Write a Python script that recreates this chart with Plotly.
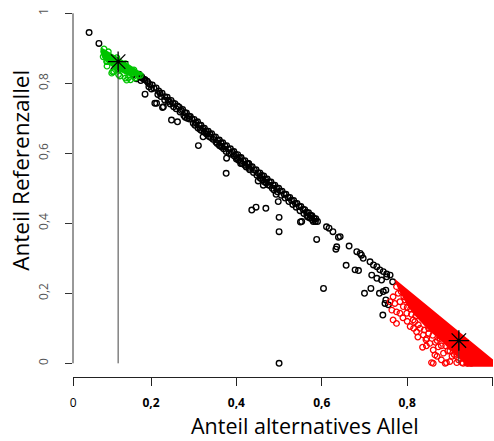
import plotly.graph_objects as go

# ---------------- data ----------------
black_x = [0.055, 0.078, 0.158, 0.166, 0.178, 0.186, 0.193, 0.186, 0.213, 0.229,
           0.248, 0.262, 0.172, 0.179, 0.183, 0.191, 0.197, 0.203, 0.207, 0.212,
           0.218, 0.221, 0.226, 0.232, 0.238, 0.241, 0.247, 0.251, 0.256, 0.262,
           0.266, 0.271, 0.274, 0.279, 0.283, 0.288, 0.292, 0.296, 0.301, 0.305,
           0.309, 0.313, 0.317, 0.321, 0.325, 0.329, 0.334, 0.338, 0.342, 0.347,
           0.351, 0.356, 0.360, 0.364, 0.368, 0.373, 0.377, 0.381, 0.386, 0.390,
           0.394, 0.398, 0.403, 0.407, 0.411, 0.416, 0.420, 0.425, 0.429, 0.433,
           0.437, 0.442, 0.446, 0.451, 0.455, 0.459, 0.464, 0.468, 0.472, 0.477,
           0.481, 0.486, 0.490, 0.494, 0.499, 0.503, 0.507, 0.512, 0.516, 0.521,
           0.525, 0.529, 0.534, 0.538, 0.542, 0.547, 0.551, 0.556, 0.560, 0.564,
           0.569, 0.573, 0.577, 0.582, 0.586, 0.232, 0.240, 0.280, 0.290, 0.310,
           0.318, 0.325, 0.345, 0.352, 0.360, 0.370, 0.376, 0.395, 0.402, 0.410,
           0.420, 0.455, 0.462, 0.470, 0.478, 0.484, 0.565, 0.572, 0.578, 0.585,
           0.590, 0.209, 0.227, 0.311, 0.322, 0.377, 0.376, 0.410, 0.428, 0.430,
           0.451, 0.463, 0.436, 0.446, 0.469, 0.500, 0.500, 0.498, 0.493, 0.550,
           0.588, 0.611, 0.617, 0.626, 0.639, 0.643, 0.635, 0.633, 0.664, 0.657,
           0.682, 0.690, 0.693, 0.697, 0.678, 0.686, 0.713, 0.721, 0.729, 0.736,
           0.744, 0.752, 0.760, 0.717, 0.729, 0.740, 0.752, 0.766, 0.604, 0.700,
           0.715, 0.735, 0.750, 0.750, 0.756, 0.744, 0.748, 0.743, 0.500, 0.575,
           0.553]
black_y = [0.945, 0.914, 0.826, 0.813, 0.819, 0.810, 0.802, 0.769, 0.743, 0.733,
           0.695, 0.690, 0.826, 0.815, 0.812, 0.806, 0.797, 0.795, 0.786, 0.787,
           0.778, 0.772, 0.772, 0.762, 0.760, 0.752, 0.751, 0.744, 0.742, 0.735,
           0.732, 0.722, 0.725, 0.716, 0.715, 0.707, 0.705, 0.698, 0.697, 0.688,
           0.690, 0.681, 0.680, 0.672, 0.672, 0.664, 0.663, 0.655, 0.656, 0.646,
           0.647, 0.637, 0.638, 0.629, 0.630, 0.621, 0.622, 0.612, 0.613, 0.604,
           0.605, 0.597, 0.596, 0.588, 0.588, 0.578, 0.579, 0.570, 0.570, 0.562,
           0.562, 0.552, 0.553, 0.544, 0.544, 0.537, 0.535, 0.527, 0.527, 0.518,
           0.518, 0.509, 0.509, 0.501, 0.500, 0.492, 0.492, 0.483, 0.483, 0.474,
           0.474, 0.466, 0.465, 0.457, 0.457, 0.448, 0.448, 0.440, 0.439, 0.432,
           0.430, 0.423, 0.422, 0.414, 0.413, 0.752, 0.748, 0.703, 0.698, 0.672,
           0.665, 0.660, 0.640, 0.632, 0.622, 0.613, 0.605, 0.592, 0.586, 0.577,
           0.566, 0.530, 0.525, 0.515, 0.508, 0.500, 0.422, 0.415, 0.410, 0.405,
           0.405, 0.743, 0.731, 0.622, 0.647, 0.586, 0.543, 0.571, 0.571, 0.557,
           0.521, 0.509, 0.438, 0.446, 0.443, 0.417, 0.376, 0.462, 0.483, 0.404,
           0.354, 0.390, 0.386, 0.376, 0.360, 0.362, 0.333, 0.326, 0.335, 0.280,
           0.319, 0.314, 0.309, 0.300, 0.267, 0.265, 0.290, 0.281, 0.276, 0.267,
           0.262, 0.255, 0.252, 0.252, 0.243, 0.238, 0.247, 0.233, 0.214, 0.200,
           0.214, 0.200, 0.209, 0.181, 0.167, 0.205, 0.171, 0.138, 0.000, 0.422,
           0.405]

# second, slightly lower row of the dense black band
black_band_x = [0.176, 0.195, 0.201, 0.216, 0.223, 0.245, 0.253, 0.259, 0.268, 0.277,
                0.285, 0.299, 0.303, 0.315, 0.330, 0.336, 0.340, 0.355, 0.363, 0.366,
                0.383, 0.388, 0.400, 0.405, 0.414, 0.423, 0.431, 0.440, 0.448, 0.457,
                0.466, 0.474, 0.488, 0.496, 0.505, 0.514, 0.523, 0.532, 0.540, 0.549,
                0.558, 0.567, 0.580]
black_band_y = [0.808, 0.790, 0.784, 0.768, 0.762, 0.741, 0.733, 0.727, 0.718, 0.708,
                0.700, 0.686, 0.680, 0.668, 0.655, 0.648, 0.645, 0.628, 0.620, 0.618,
                0.600, 0.597, 0.584, 0.580, 0.570, 0.561, 0.553, 0.545, 0.537, 0.528,
                0.518, 0.510, 0.495, 0.490, 0.480, 0.472, 0.462, 0.454, 0.446, 0.436,
                0.428, 0.418, 0.405]

green_x = [0.097, 0.113, 0.124, 0.140, 0.152, 0.163, 0.110, 0.127, 0.147, 0.123,
           0.098, 0.088, 0.135, 0.096, 0.108, 0.143, 0.155, 0.159, 0.170, 0.175,
           0.090, 0.100, 0.120, 0.140, 0.160]
green_y = [0.849, 0.834, 0.825, 0.815, 0.810, 0.815, 0.833, 0.821, 0.816, 0.838,
           0.862, 0.876, 0.852, 0.862, 0.829, 0.809, 0.833, 0.819, 0.822, 0.823,
           0.898, 0.890, 0.873, 0.856, 0.838]
# outline of the solid, fully overplotted part of the green cloud
green_area_x = [0.083, 0.131, 0.180, 0.178, 0.165, 0.152, 0.140, 0.124, 0.113, 0.097, 0.086, 0.081]
green_area_y = [0.903, 0.869, 0.829, 0.822, 0.823, 0.820, 0.825, 0.835, 0.843, 0.858, 0.872, 0.890]

red_x = [0.767, 0.779, 0.771, 0.783, 0.764, 0.775, 0.791, 0.799, 0.783, 0.767,
         0.775, 0.807, 0.818, 0.822, 0.830, 0.838, 0.846, 0.853, 0.836, 0.861,
         0.873, 0.885, 0.861, 0.889, 0.900, 0.931, 0.916, 0.814, 0.795, 0.807,
         0.775, 0.760, 0.865, 0.857, 0.892, 0.916, 0.928, 0.844, 0.877, 0.786,
         0.792, 0.800, 0.810, 0.826, 0.840, 0.850, 0.866, 0.880, 0.895, 0.905,
         0.920, 0.940, 0.950, 0.800, 0.790, 0.815, 0.825, 0.845, 0.870, 0.880,
         0.820, 0.808, 0.850, 0.860, 0.870, 0.890, 0.900, 0.910, 0.935]
red_y = [0.190, 0.200, 0.171, 0.176, 0.152, 0.147, 0.162, 0.143, 0.143, 0.124,
         0.114, 0.105, 0.119, 0.090, 0.100, 0.081, 0.071, 0.057, 0.046, 0.038,
         0.047, 0.029, 0.000, 0.000, 0.005, 0.000, 0.019, 0.124, 0.181, 0.171,
         0.219, 0.176, 0.024, 0.002, 0.002, 0.002, 0.002, 0.067, 0.071, 0.205,
         0.190, 0.160, 0.140, 0.110, 0.095, 0.085, 0.060, 0.050, 0.035, 0.020,
         0.010, 0.000, 0.000, 0.120, 0.130, 0.100, 0.075, 0.050, 0.020, 0.010,
         0.135, 0.155, 0.100, 0.080, 0.065, 0.050, 0.035, 0.025, 0.012]
# outline of the solid, fully overplotted part of the red cloud
red_area_x = [0.772, 1.003, 1.003, 0.940, 0.930, 0.915, 0.900, 0.885, 0.868, 0.850,
              0.832, 0.815, 0.800, 0.788, 0.778, 0.772]
red_area_y = [0.240, 0.009, -0.010, -0.010, 0.005, 0.022, 0.038, 0.058, 0.075, 0.095,
              0.118, 0.140, 0.165, 0.190, 0.215, 0.232]

star_x = [0.123, 0.921]
star_y = [0.862, 0.065]

x_tick_vals = [0.0175, 0.2, 0.4, 0.6, 0.8, 1.0]
x_tick_text = ["0", "<b>0,2</b>", "<b>0,4</b>", "<b>0,6</b>", "<b>0,8</b>", "<b>1</b>"]
y_tick_vals = [0, 0.2, 0.4, 0.6, 0.8, 1.0]
y_tick_text = ["0", "0,2", "0,4", "0,6", "0,8", "1"]

x_title = "Anteil alternatives Allel"
y_title = "Anteil Referenzallel"

FONT = "Open Sans"
GREEN = "#00C400"
RED = "#FF0000"

fig = go.Figure()

fig.add_trace(go.Scatter(x=black_x + black_band_x, y=black_y + black_band_y,
                         mode="markers", cliponaxis=False,
                         marker=dict(symbol="circle-open", size=5.6, color="black",
                                     line=dict(width=1.35, color="black"))))

fig.add_trace(go.Scatter(x=green_area_x, y=green_area_y, mode="lines", fill="toself",
                         fillcolor=GREEN, line=dict(width=0, color=GREEN)))
fig.add_trace(go.Scatter(x=green_x, y=green_y, mode="markers", cliponaxis=False,
                         marker=dict(symbol="circle-open", size=5.6, color=GREEN,
                                     line=dict(width=1.3, color=GREEN))))

fig.add_trace(go.Scatter(x=red_area_x, y=red_area_y, mode="lines", fill="toself",
                         fillcolor=RED, line=dict(width=0, color=RED)))
fig.add_trace(go.Scatter(x=red_x, y=red_y, mode="markers", cliponaxis=False,
                         marker=dict(symbol="circle-open", size=5.6, color=RED,
                                     line=dict(width=1.3, color=RED))))

# vertical lines from the axis to each star
for sx, sy in zip(star_x, star_y):
    fig.add_trace(go.Scatter(x=[sx, sx], y=[0, sy], mode="lines",
                             line=dict(color="#444444", width=1)))

fig.add_trace(go.Scatter(x=star_x, y=star_y, mode="markers", cliponaxis=False,
                         marker=dict(symbol="asterisk-open", size=17, color="black",
                                     line=dict(width=1.3, color="black"))))

fig.update_layout(
    width=494, height=441,
    margin=dict(l=73, r=1, t=13, b=64),
    paper_bgcolor="white", plot_bgcolor="white",
    showlegend=False,
    xaxis=dict(range=[0.0173, 1.001], showgrid=False, zeroline=False,
               showline=True, linecolor="#222222", linewidth=1.2,
               ticks="outside", ticklen=8, tickwidth=1.2, tickcolor="#222222",
               tickvals=x_tick_vals, ticktext=x_tick_text,
               tickfont=dict(family=FONT, size=12, color="black"),
               ticklabelstandoff=6),
    yaxis=dict(range=[-0.0391, 1.0009], showgrid=False, zeroline=False,
               showline=False,
               ticks="outside", ticklen=7, tickwidth=1, tickcolor="#333333",
               tickvals=y_tick_vals, ticktext=y_tick_text, tickangle=-90,
               tickfont=dict(family=FONT, size=12, color="#555555"),
               ticklabelstandoff=12),
    shapes=[dict(type="line", xref="paper", yref="y", x0=0, x1=0, y0=0, y1=1,
                 line=dict(color="#333333", width=1))],
    annotations=[
        dict(text=x_title, xref="paper", yref="paper", x=0.552, y=-0.134,
             xanchor="center", yanchor="middle", showarrow=False,
             font=dict(family=FONT, size=21.5, color="black")),
        dict(text=y_title, xref="paper", yref="paper", x=-0.124, y=0.569,
             xanchor="center", yanchor="middle", textangle=-90, showarrow=False,
             font=dict(family=FONT, size=22.5, color="black")),
    ],
)

fig.write_html("out.html", config={"displayModeBar": False},
               post_script="document.body.style.margin='0px';document.body.style.overflow='hidden';")
